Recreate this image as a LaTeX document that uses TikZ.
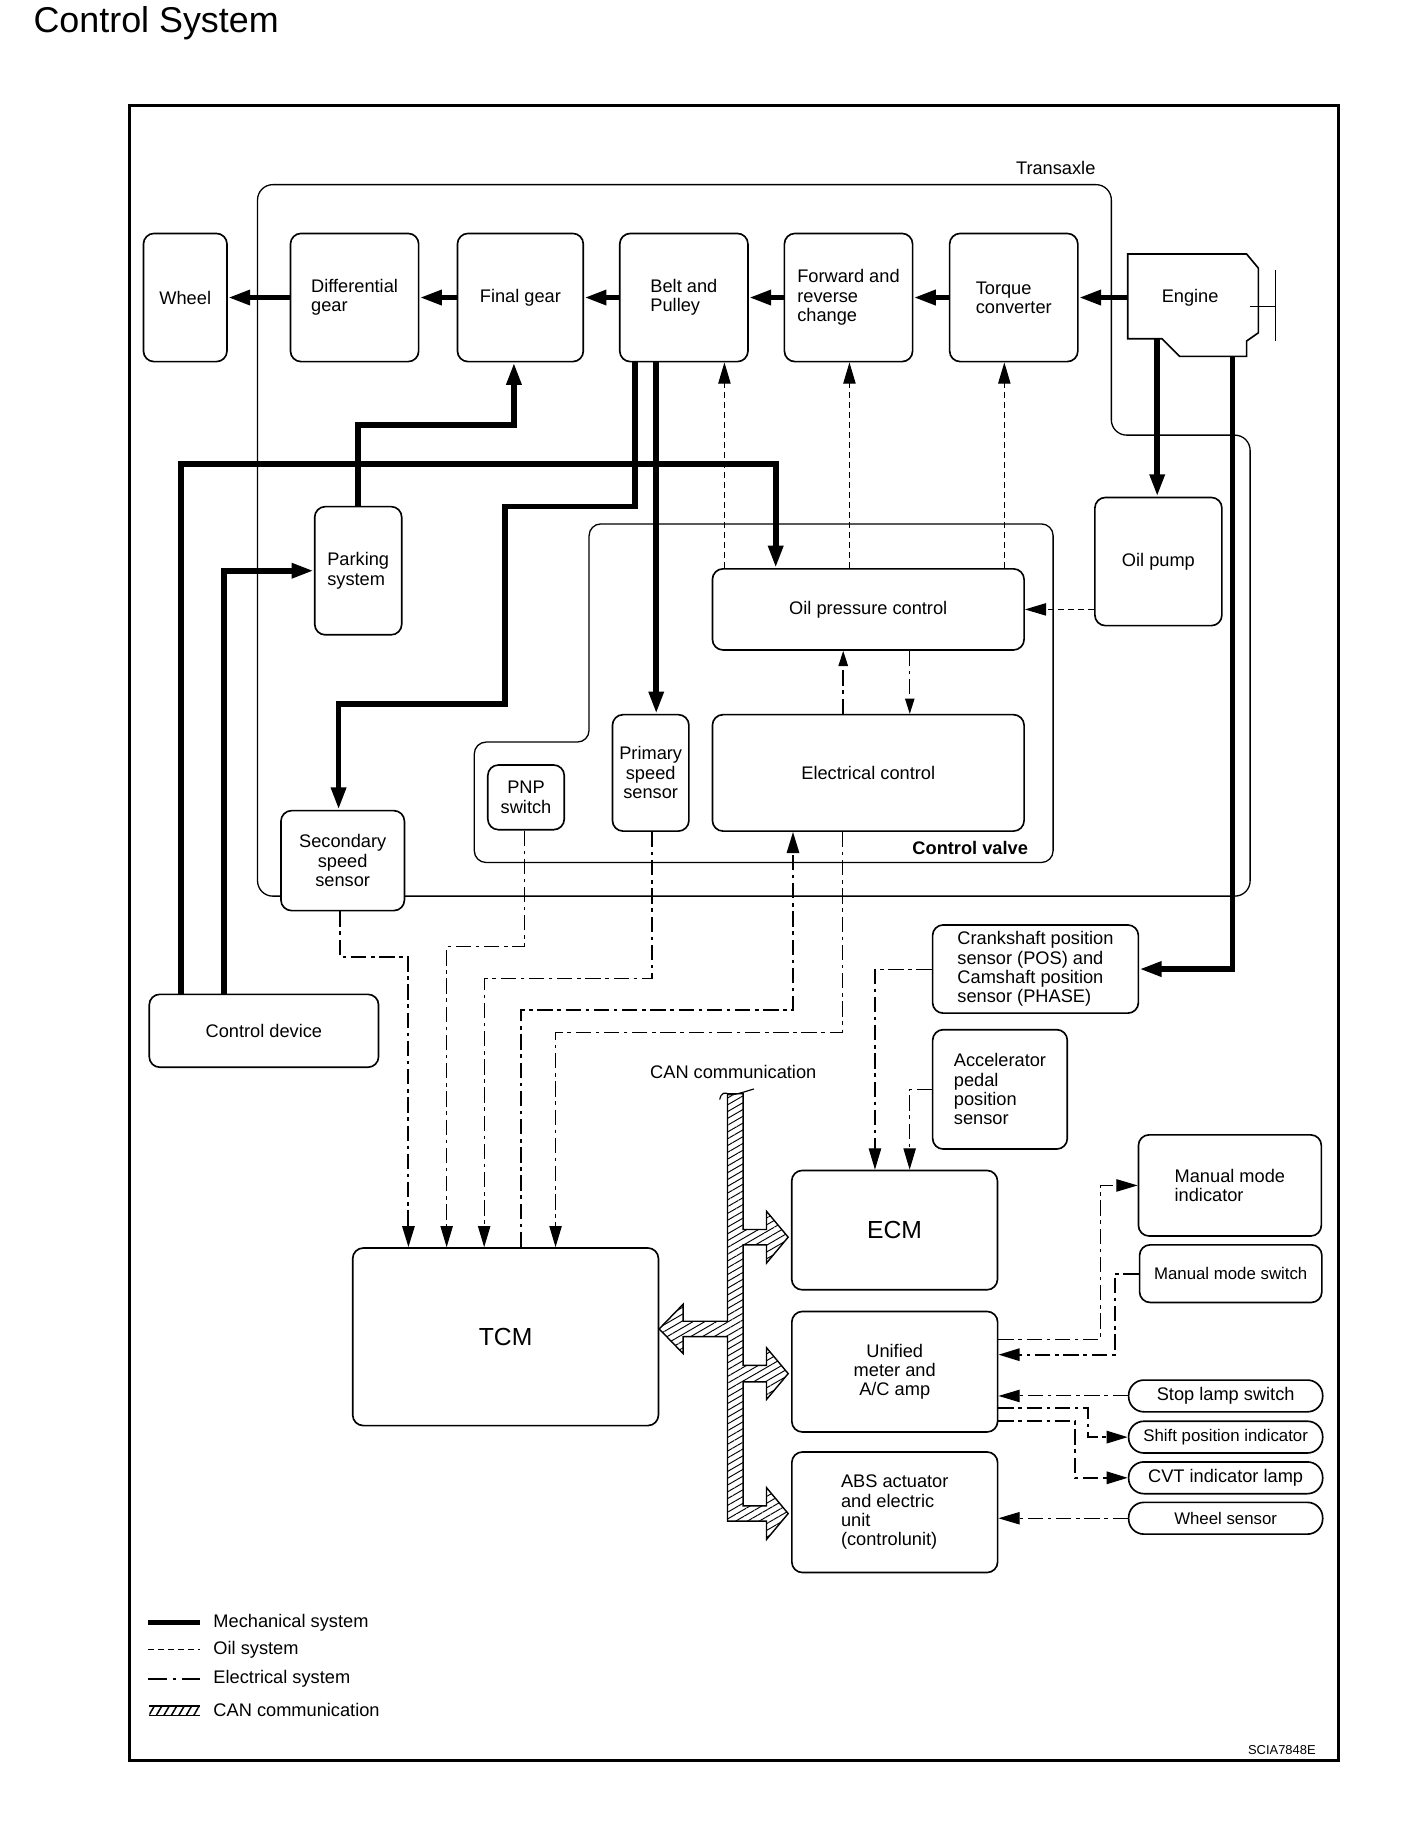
\documentclass[tikz,border=0pt]{standalone}
\usepackage{fontspec}
\setmainfont{Liberation Sans}
\usepackage{tikz}
\usetikzlibrary{arrows.meta,calc,patterns.meta}

\begin{document}
\begin{tikzpicture}[x=1pt,y=-1pt,
  lbl/.style={font=\fontsize{15.5}{16.5}\selectfont},
  slbl/.style={font=\fontsize{14.3}{16}\selectfont},
  big/.style={font=\fontsize{21}{25}\selectfont},
  box/.style={draw,fill=white,line width=1.4pt,rounded corners=9pt,inner sep=0pt,align=left,lbl},
  pill/.style={box,rounded corners=13pt,minimum width=165pt,minimum height=27pt},
  mech/.style={line width=4.8pt,-{Triangle[length=19pt,width=12pt]}},
  oil/.style={line width=0.9pt,dash pattern=on 5pt off 3.5pt,-{Triangle[length=18pt,width=10.5pt]}},
  elec/.style={line width=0.9pt,dash pattern=on 13pt off 4pt on 3pt off 4pt,-{Triangle[length=18pt,width=10.5pt]}},
  elecb/.style={elec,line width=1.7pt},
  outline/.style={line width=1.1pt,rounded corners=13pt},
  canfill/.style={draw,line width=1.2pt,pattern={Lines[angle=30,distance=5pt,line width=0.8pt]}}]
  \useasboundingbox (0,0) rectangle (1197,1568);
  \node[anchor=base west,font=\fontsize{30.5}{34}\selectfont] (title) at (25,27.5) {Control System};
  \draw[line width=2.8pt] (110,90) rectangle (1138,1497);
  \draw[outline] (219,157) -- (945,157) -- (945,370) -- (1063,370) -- (1063,762) -- (219,762) -- cycle;
  \node[lbl] (transaxle) at (897.7,143) {Transaxle};
  \draw[outline,rounded corners=10pt] (500.9,445.5) -- (895.5,445.5) -- (895.5,733.4) -- (403.3,733.4) -- (403.3,631) -- (500.9,631) -- cycle;
  \node[lbl,font=\fontsize{15.5}{16.5}\selectfont\bfseries] (cvalve) at (825,721) {Control valve};

  \node[box,minimum width=71pt,minimum height=109pt] (wheel) at (157.5,253) {Wheel};
  \node[box,minimum width=109pt,minimum height=109pt] (diff) at (301.5,253) {Differential\\gear};
  \node[box,minimum width=107pt,minimum height=109pt] (final) at (442.5,253) {Final gear};
  \node[box,minimum width=109pt,minimum height=109pt] (belt) at (581.5,253) {Belt and\\Pulley};
  \node[box,minimum width=109pt,minimum height=109pt] (fwd) at (721.5,253) {Forward and\\reverse\\change};
  \node[box,minimum width=109pt,minimum height=109pt] (torque) at (862,253) {Torque\\converter};
  \draw[line width=1.4pt,fill=white] (959,216) -- (1060,216) -- (1070,228) -- (1070,283) -- (1060,290) -- (1060,303) -- (1003,303) -- (988,288) -- (959,288) -- cycle;
  \draw[line width=1.2pt] (1084.7,229.5) -- (1084.7,289.6) (1062.7,260.7) -- (1084.7,260.7);
  \node[lbl,inner sep=0pt,minimum width=106pt,minimum height=74pt] (engine) at (1012,253) {Engine};
  \coordinate (engA) at (984,288);
  \coordinate (engB) at (1048,303);

  \node[box,minimum width=108pt,minimum height=109pt] (pump) at (985,477.5) {Oil pump};
  \node[box,minimum width=265pt,minimum height=69pt] (opc) at (738.3,518.2) {Oil pressure control};
  \node[box,minimum width=265pt,minimum height=99pt] (elc) at (738.3,657.2) {Electrical control};
  \node[box,minimum width=65pt,minimum height=99pt,align=center] (pss) at (553.3,657.2) {Primary\\speed\\sensor};
  \node[box,minimum width=65pt,minimum height=55pt,align=center] (pnp) at (447.3,678) {PNP\\switch};
  \node[box,minimum width=105pt,minimum height=85pt,align=center] (sss) at (291.4,731.8) {Secondary\\speed\\sensor};
  \node[box,minimum width=74pt,minimum height=109pt] (park) at (304.6,485.3) {Parking\\system};
  \node[box,minimum width=195pt,minimum height=62pt] (ctrl) at (224.4,876.5) {Control device};

  \node[box,big,minimum width=260pt,minimum height=151pt] (tcm) at (429.9,1136.7) {TCM};
  \node[box,big,minimum width=175pt,minimum height=101.5pt] (ecm) at (760.7,1046) {ECM};
  \node[box,align=center,minimum width=175pt,minimum height=102.5pt] (um) at (760.8,1166.4) {Unified\\meter and\\A/C amp};
  \node[box,minimum width=175pt,minimum height=102.5pt] (abs) at (760.8,1285.9) {ABS actuator\\and electric\\unit\\(controlunit)};
  \node[box,minimum width=175pt,minimum height=75pt] (crank) at (880.5,824) {Crankshaft position\\sensor (POS) and\\Camshaft position\\sensor (PHASE)};
  \node[box,minimum width=114.5pt,minimum height=101.5pt] (accel) at (850.3,926.3) {Accelerator\\pedal\\position\\sensor};
  \node[box,minimum width=155.5pt,minimum height=86pt] (mmi) at (1045.8,1008) {Manual mode\\indicator};
  \node[box,slbl,minimum width=155pt,minimum height=49pt] (mms) at (1046.5,1083) {Manual mode switch};
  \node[pill] (stop) at (1042.2,1187) {Stop lamp switch};
  \node[pill,slbl] (shift) at (1042.2,1222) {Shift position indicator};
  \node[pill] (cvt) at (1042.2,1256.6) {CVT indicator lamp};
  \node[pill,slbl] (wsen) at (1042.2,1291) {Wheel sensor};

  \draw[mech] (engine.west) -- (torque.east);
  \draw[mech] (torque.west) -- (fwd.east);
  \draw[mech] (fwd.west) -- (belt.east);
  \draw[mech] (belt.west) -- (final.east);
  \draw[mech] (final.west) -- (diff.east);
  \draw[mech] (diff.west) -- (wheel.east);
  \draw[mech] (park.north) |- (437,361.3) -- (437,0 |- final.south);
  \draw[mech] (153.8,0 |- ctrl.north) |- (659.6,394.5) -- (659.6,0 |- opc.north);
  \draw[mech] (190.3,0 |- ctrl.north) |- (park.west);
  \draw[mech] (540,0 |- belt.south) |- (429.3,430.8) |- (287.9,598.4) -- (287.9,0 |- sss.north);
  \draw[mech] (558,0 |- belt.south) -- (558,0 |- pss.north);
  \draw[mech] (engA) -- (984,0 |- pump.north);
  \draw[mech] (engB) |- (crank.east);

  \draw[oil] (616,0 |- opc.north) -- (616,0 |- belt.south);
  \draw[oil] (722.3,0 |- opc.north) -- (722.3,0 |- fwd.south);
  \draw[oil] (854,0 |- opc.north) -- (854,0 |- torque.south);
  \draw[oil] (pump.west |- opc.east) -- (opc.east);

  \draw[elec,line width=1.5pt,-{Triangle[length=13pt,width=8pt]}] (717,0 |- elc.north) -- (717,0 |- opc.south);
  \draw[elec,-{Triangle[length=13pt,width=8pt]}] (773.6,0 |- opc.south) -- (773.6,0 |- elc.north);
  \draw[elecb] (289.4,0 |- sss.south) |- (347.3,813.9) -- (347.3,0 |- tcm.north);
  \draw[elec] (446,0 |- pnp.south) |- (379.8,804.8) -- (379.8,0 |- tcm.north);
  \draw[elec] (554.4,0 |- pss.south) |- (411.7,831.7) -- (411.7,0 |- tcm.north);
  \draw[elecb] (442.9,0 |- tcm.north) |- (674.3,858.6) -- (674.3,0 |- elc.south);
  \draw[elec] (716.3,0 |- elc.south) |- (472.4,877.6) -- (472.4,0 |- tcm.north);

  \draw[elec] (crank.west) -| (744,0 |- ecm.north);
  \draw[elec] (accel.west) -| (773.5,0 |- ecm.north);
  \draw[elec] (um.east |- 0,1139.2) -| (935.6,0 |- mmi.west) -- (mmi.west);
  \draw[elecb] (mms.west) -| (947.9,1151.9) -- (um.east |- 0,1151.9);
  \draw[elec] (stop.west) -- (um.east |- stop.west);
  \draw[elecb] (um.east |- 0,1197.3) -| (924.8,0 |- shift.west) -- (shift.west);
  \draw[elecb] (um.east |- 0,1208.6) -| (914.1,0 |- cvt.west) -- (cvt.west);
  \draw[elec] (wsen.west) -- (abs.east |- wsen.west);

  \node[lbl] (canlbl) at (623.5,911.7) {CAN communication};
  \path[canfill] (618.6,930) -- (631.9,930) -- (631.9,1045.5) -- (651.8,1045.5) -- (651.8,1030) -- (670.2,1052) -- (651.8,1074) -- (651.8,1058.5)
    -- (631.9,1058.5) -- (631.9,1161) -- (651.8,1161) -- (651.8,1146) -- (670.2,1168) -- (651.8,1190) -- (651.8,1175)
    -- (631.9,1175) -- (631.9,1280.5) -- (651.8,1280.5) -- (651.8,1265) -- (670.2,1287) -- (651.8,1309) -- (651.8,1293.5)
    -- (618.6,1293.5) -- (618.6,1136.5) -- (580.9,1136.5) -- (580.9,1151) -- (560.5,1130) -- (580.9,1109) -- (580.9,1123.5)
    -- (618.6,1123.5) -- cycle;
  \draw[line width=1pt] (612,935) .. controls (613,929) and (617,928) .. (620,931) .. controls (626,931) and (634,928) .. (641,926);

  \node[lbl,anchor=west] (legmech) at (178,1379.5) {Mechanical system};
  \node[lbl,anchor=west] (legoil) at (178,1402.7) {Oil system};
  \node[lbl,anchor=west] (legelec) at (178,1427.7) {Electrical system};
  \node[lbl,anchor=west] (legcan) at (178,1453.7) {CAN communication};
  \draw[line width=3.8pt] ([xshift=-52pt]legmech.west) -- ([xshift=-8pt]legmech.west);
  \draw[line width=0.9pt,dash pattern=on 5pt off 3.5pt] ([xshift=-52pt]legoil.west) -- ([xshift=-8pt]legoil.west);
  \draw[line width=0.9pt,dash pattern=on 16pt off 5pt on 3pt off 5pt] ([xshift=-52pt]legelec.west) -- ([xshift=-8pt]legelec.west);
  \path[pattern={Lines[angle=60,distance=5.5pt,line width=1.3pt]}] ([xshift=-51pt,yshift=-5pt]legcan.west) rectangle ([xshift=-8pt,yshift=3pt]legcan.west);
  \draw[line width=1.1pt] ([xshift=-51pt,yshift=-5pt]legcan.west) -- ([xshift=-8pt,yshift=-5pt]legcan.west);
  \draw[line width=1.1pt] ([xshift=-51pt,yshift=3pt]legcan.west) -- ([xshift=-8pt,yshift=3pt]legcan.west);

  \node[font=\fontsize{11}{13}\selectfont] (code) at (1090,1488) {SCIA7848E};
\end{tikzpicture}
\end{document}
